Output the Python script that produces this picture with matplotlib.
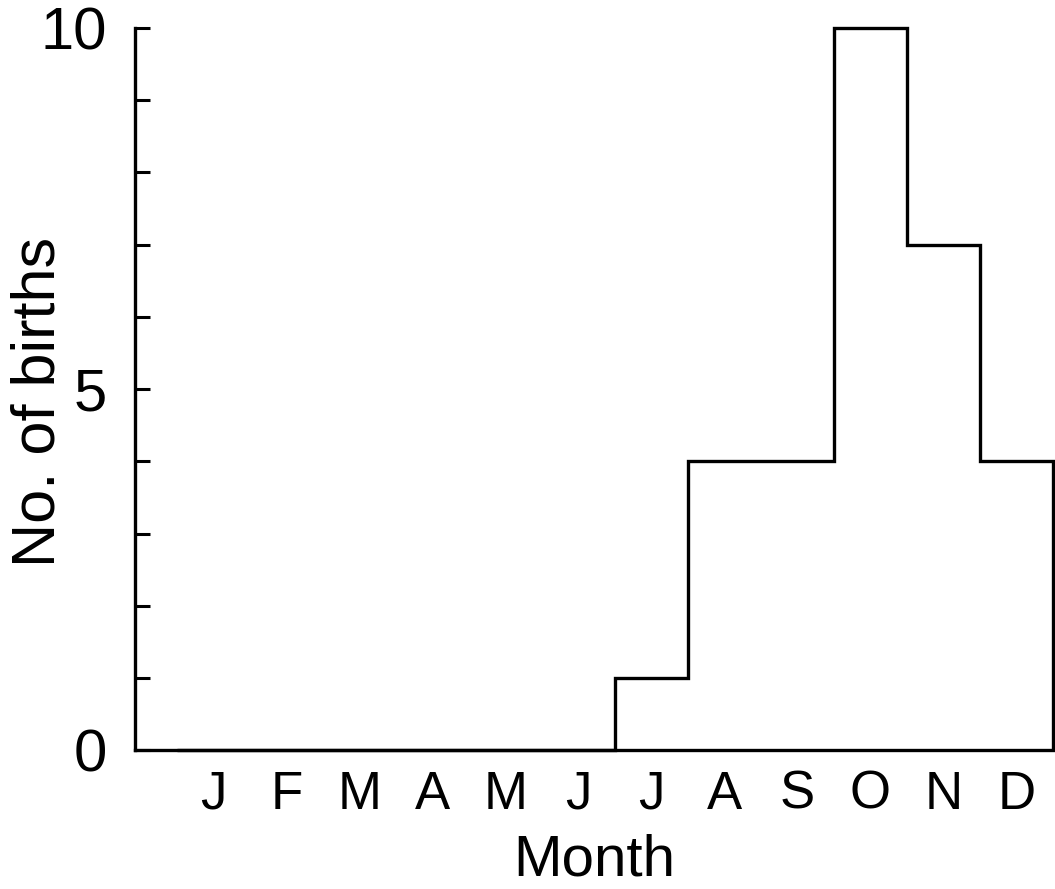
import numpy as np
import matplotlib.pyplot as plt

# births per month
months = ['J', 'F', 'M', 'A', 'M', 'J', 'J', 'A', 'S', 'O', 'N', 'D']
births = [0, 0, 0, 0, 0, 0, 1, 4, 4, 10, 7, 4]

plt.rcParams['font.family'] = ['Liberation Sans', 'DejaVu Sans']

fig = plt.figure(figsize=(10.55, 8.89), dpi=100)
ax = fig.add_axes([0.128, 0.156, 0.870, 0.8125])

edges = np.arange(len(months) + 1)
ax.stairs(births, edges, color='black', linewidth=2.4, baseline=0, clip_on=False)

ax.set_xlim(-0.575, 12)
ax.set_ylim(0, 10)

ax.spines['top'].set_visible(False)
ax.spines['right'].set_visible(False)
ax.spines['left'].set_linewidth(2.4)
ax.spines['bottom'].set_linewidth(2.4)

ax.set_yticks([0, 5, 10])
ax.set_yticks(np.arange(0, 11), minor=True)
ax.tick_params(axis='y', which='both', direction='in', length=11, width=2.2,
               labelsize=43, pad=20)

ax.set_xticks(edges[:-1] + 0.5)
ax.set_xticklabels(months)
ax.tick_params(axis='x', length=0, labelsize=38, pad=14)

ax.set_xlabel('Month', fontsize=42, labelpad=10)
ax.set_ylabel('No. of births', fontsize=44)
ax.yaxis.set_label_coords(-0.074, 0.482)

fig.savefig('out.png', dpi=100)
